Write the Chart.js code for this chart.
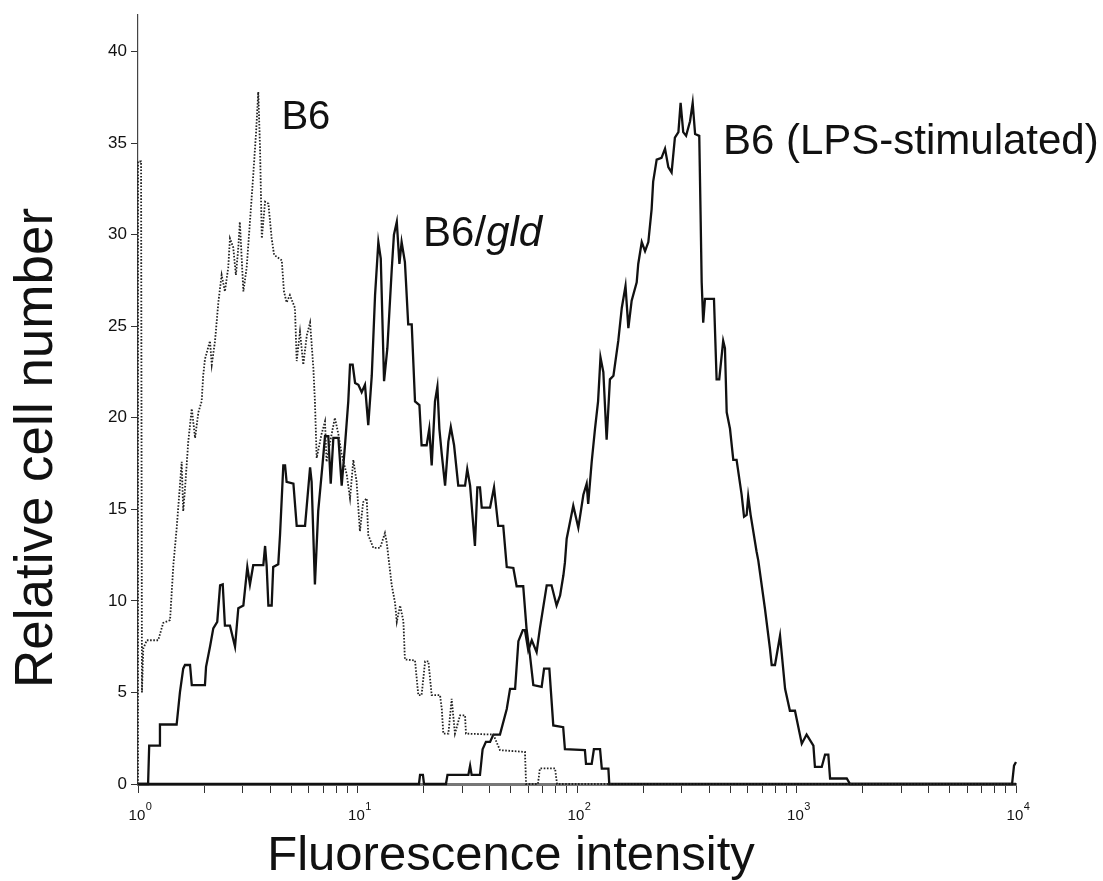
<!DOCTYPE html>
<html>
<head>
<meta charset="utf-8">
<script src="https://cdn.jsdelivr.net/npm/chart.js@4.4.1/dist/chart.umd.min.js"></script>
<style>
html,body{margin:0;padding:0;background:#fff;}
#wrap{width:1103px;height:881px;position:relative;}
</style>
</head>
<body>
<div id="wrap"><canvas id="c"></canvas></div>
<script>
// ---- axis ticks / labels ----
const yTickStep = 5;
const yMax = 42;
const xDecadeTicks = [1, 10, 100, 1000, 10000];
const xDecadeBase = '10';
const xDecadeExponents = ['0', '1', '2', '3', '4'];
const xTitle = 'Fluorescence intensity';
const yTitle = 'Relative cell number';

// ---- series (x = log10 of fluorescence intensity, y = relative cell number) ----
const b6LogX = [0.000,0.000,0.014,0.018,0.024,0.040,0.092,0.115,0.146,0.161,0.176,
  0.191,0.199,0.206,0.214,0.229,0.245,0.260,0.275,0.290,0.297,
  0.305,0.328,0.336,0.351,0.366,0.381,0.396,0.411,0.419,0.434,
  0.446,0.457,0.464,0.480,0.495,0.510,0.523,0.538,0.548,0.556,
  0.564,0.579,0.594,0.609,0.620,0.655,0.665,0.677,0.692,0.715,
  0.723,0.738,0.753,0.769,0.784,0.799,0.806,0.814,0.836,0.852,
  0.859,0.882,0.897,0.913,0.928,0.951,0.966,0.981,0.996,1.011,
  1.026,1.042,1.049,1.072,1.103,1.125,1.133,1.156,1.171,1.179,
  1.194,1.209,1.216,1.262,1.277,1.292,1.308,1.323,1.338,1.376,
  1.384,1.391,1.414,1.429,1.444,1.467,1.490,1.494,1.619,1.649,
  1.763,1.768,1.822,1.831,1.900,1.909,4.000];
const b6Count = [0,34.0,34.0,5.0,7.4,7.85,7.85,8.8,8.95,11.95,13.95,
  16.3,17.6,14.9,16.1,18.7,20.5,18.9,20.3,20.9,22.3,
  23.2,24.2,22.9,24.2,26.3,27.8,26.9,28.2,29.8,29.3,
  27.8,29.3,30.7,26.9,28.2,30.7,32.9,35.6,37.8,34.7,
  29.8,31.8,31.7,29.8,28.9,28.6,26.9,26.3,26.7,26.0,
  23.1,24.7,22.9,24.5,25.2,22.7,20.9,17.8,19.1,19.8,
  17.6,19.1,20.0,19.1,18.0,16.9,15.6,17.7,16.5,13.8,
  15.4,15.6,13.6,12.9,12.9,13.7,13.2,10.85,9.9,8.85,
  9.75,8.9,6.8,6.75,4.85,4.85,6.7,6.7,4.85,4.85,
  4.1,2.75,2.75,4.65,2.75,3.75,3.75,2.75,2.7,1.85,
  1.75,0,0,0.85,0.85,0,0];

const gldLogX = [0.000,0.046,0.051,0.097,0.100,0.176,0.191,0.206,0.214,0.237,
  0.245,0.305,0.310,0.328,0.343,0.361,0.374,0.386,0.396,0.419,
  0.442,0.457,0.480,0.498,0.510,0.525,0.571,0.579,0.586,0.594,
  0.609,0.616,0.639,0.647,0.662,0.670,0.677,0.708,0.723,0.761,
  0.784,0.791,0.806,0.821,0.841,0.852,0.867,0.878,0.890,0.913,
  0.928,0.943,0.958,0.966,0.978,0.989,1.004,1.019,1.034,1.049,
  1.065,1.080,1.095,1.106,1.121,1.136,1.156,1.166,1.179,1.191,
  1.201,1.216,1.221,1.231,1.247,1.262,1.282,1.292,1.315,1.327,
  1.338,1.353,1.364,1.373,1.384,1.399,1.414,1.425,1.440,1.459,
  1.490,1.500,1.513,1.535,1.546,1.558,1.566,1.604,1.622,1.641,
  1.664,1.680,1.710,1.725,1.755,1.770,1.786,1.801,1.839,1.850,
  1.874,1.892,1.937,1.945,2.036,2.041,2.067,2.077,2.105,2.113,
  2.143,2.147,4.000];
const gldCount = [0,0,2.1,2.1,3.25,3.25,5.0,6.3,6.5,6.5,
  5.4,5.4,6.4,7.5,8.5,8.85,10.85,10.9,8.65,8.65,
  7.5,9.6,9.75,11.85,10.9,11.95,11.95,13.0,11.95,9.75,
  9.75,11.85,12.0,13.6,17.4,17.4,16.5,16.4,14.1,14.1,
  17.3,16.5,10.9,14.9,17.5,19.0,19.0,16.4,18.9,18.9,
  16.3,18.5,20.9,22.9,22.9,21.9,21.8,21.4,21.8,19.6,
  22.3,26.7,29.6,28.7,22.0,23.8,28.1,30.0,30.7,28.4,
  29.6,28.5,27.4,25.1,25.1,20.9,20.7,18.5,18.5,19.4,
  17.4,20.9,21.7,19.4,18.0,16.3,18.7,19.5,18.5,16.3,
  16.3,17.2,16.3,13.0,16.2,16.2,15.1,15.1,16.2,14.1,
  14.1,11.85,11.8,10.8,10.8,8.5,7.0,5.4,5.3,6.3,
  6.3,3.2,3.1,1.9,1.85,1.1,1.1,1.9,1.9,0.84,
  0.84,0,0];

const lpsLogX = [0.000,1.280,1.285,1.298,1.303,1.403,1.410,1.505,1.513,1.520,
  1.558,1.570,1.585,1.604,1.619,1.649,1.680,1.695,1.718,1.733,
  1.753,1.763,1.778,1.794,1.816,1.831,1.862,1.884,1.907,1.923,
  1.938,1.945,1.953,1.983,2.006,2.029,2.044,2.051,2.067,2.082,
  2.096,2.107,2.120,2.135,2.150,2.166,2.188,2.204,2.221,2.234,
  2.249,2.272,2.279,2.295,2.310,2.325,2.340,2.347,2.363,2.385,
  2.401,2.416,2.431,2.446,2.462,2.472,2.484,2.497,2.515,2.527,
  2.538,2.557,2.563,2.568,2.575,2.583,2.624,2.636,2.648,2.666,
  2.674,2.682,2.697,2.712,2.727,2.750,2.761,2.773,2.780,2.791,
  2.818,2.826,2.856,2.879,2.887,2.902,2.925,2.948,2.970,2.993,
  3.024,3.046,3.077,3.084,3.115,3.130,3.145,3.153,3.229,3.244,
  3.982,3.991,4.000];
const lpsCount = [0,0,0.5,0.5,0,0,0.5,0.5,1.0,0.5,
  0.5,1.9,2.3,2.3,2.7,2.7,4.1,5.2,5.2,7.8,
  8.4,8.4,7.3,7.85,7.2,8.5,10.85,10.85,9.75,10.3,
  11.4,12.1,13.4,15.2,14.0,15.8,16.4,15.3,17.6,19.4,
  20.9,23.3,22.5,18.8,22.1,22.3,24.2,26.0,27.2,24.9,
  26.4,27.4,28.4,29.6,29.1,29.6,31.4,32.9,34.1,34.2,
  34.7,33.7,33.4,35.3,35.6,37.2,35.6,35.4,36.2,37.2,
  35.5,35.4,31.1,27.4,25.2,26.5,26.5,22.1,22.1,24.2,
  23.8,20.3,19.4,17.7,17.7,15.8,14.6,14.7,15.7,14.7,
  12.7,12.2,9.6,7.4,6.5,6.5,8.1,5.2,4.0,4.0,
  2.2,2.7,2.1,0.93,0.93,1.6,1.6,0.3,0.3,0,
  0,1.0,1.2];

// ---- curve labels (text, anchored in data coordinates) ----
const curveLabels = [
  {parts: [['B6', 'normal']], at: [4.5, 35.8], size: 40},
  {parts: [['B6/', 'normal'], ['gld', 'italic']], at: [19.9, 29.4], size: 42},
  {parts: [['B6 (LPS-stimulated)', 'normal']], at: [462, 34.4], size: 42}
];

const FONT = '"Liberation Sans", Arial, sans-serif';

function toPoints(logX, counts) {
  return logX.map((lx, i) => ({x: Math.pow(10, lx), y: counts[i]}));
}

const xTickValues = [];
for (let d = 0; d < 4; d++) {
  for (let k = 1; k <= 9; k++) xTickValues.push(k * Math.pow(10, d));
}
xTickValues.push(10000);

const textLayer = {
  id: 'textLayer',
  afterDraw(chart) {
    const {ctx, scales: {x, y}} = chart;
    ctx.save();
    ctx.fillStyle = '#111';
    ctx.textBaseline = 'alphabetic';
    ctx.textAlign = 'left';
    // decade tick labels: "10" with a raised exponent
    xDecadeTicks.forEach((v, i) => {
      const cx = x.getPixelForValue(v);
      ctx.font = '15px ' + FONT;
      const wBase = ctx.measureText(xDecadeBase).width;
      ctx.font = '11px ' + FONT;
      const wExp = ctx.measureText(xDecadeExponents[i]).width;
      const left = cx - (wBase + wExp) / 2 + 2;
      ctx.font = '15px ' + FONT;
      ctx.fillText(xDecadeBase, left, 820);
      ctx.font = '11px ' + FONT;
      ctx.fillText(xDecadeExponents[i], left + wBase + 0.5, 810);
    });
    for (const lab of curveLabels) {
      let px = x.getPixelForValue(lab.at[0]);
      const py = y.getPixelForValue(lab.at[1]);
      for (const [txt, style] of lab.parts) {
        ctx.font = style + ' ' + lab.size + 'px ' + FONT;
        ctx.fillText(txt, px, py);
        px += ctx.measureText(txt).width;
      }
    }
    // axis titles
    ctx.textAlign = 'center';
    ctx.font = '49px ' + FONT;
    ctx.fillText(xTitle, 511, 870);
    ctx.translate(52, 448);
    ctx.rotate(-Math.PI / 2);
    ctx.font = '53px ' + FONT;
    ctx.fillText(yTitle, 0, 0);
    ctx.restore();
  }
};

new Chart(document.getElementById('c'), {
  type: 'line',
  data: {
    datasets: [
      {label: 'B6', data: toPoints(b6LogX, b6Count), borderColor: '#222', borderWidth: 1.8,
       borderDash: [1.6, 1.6], pointRadius: 0, tension: 0, fill: false, clip: 6},
      {label: 'B6/gld', data: toPoints(gldLogX, gldCount), borderColor: '#111', borderWidth: 2.3,
       pointRadius: 0, tension: 0, fill: false, clip: 6},
      {label: 'B6 (LPS-stimulated)', data: toPoints(lpsLogX, lpsCount), borderColor: '#111', borderWidth: 2.3,
       pointRadius: 0, tension: 0, fill: false, clip: 6}
    ]
  },
  options: {
    responsive: true,
    maintainAspectRatio: false,
    animation: false,
    layout: {padding: {top: 15, right: 87, left: 0, bottom: 0}},
    plugins: {legend: {display: false}, tooltip: {enabled: false}, title: {display: false}},
    scales: {
      x: {
        type: 'logarithmic',
        position: 'bottom',
        min: 1,
        max: 10000,
        afterBuildTicks: (s) => { s.ticks = xTickValues.map(v => ({value: v, major: xDecadeTicks.includes(v)})); },
        afterFit: (s) => { s.height = 97; },
        border: {display: true, color: '#777', width: 3},
        grid: {display: true, drawOnChartArea: false, drawTicks: true, tickLength: 9, color: '#333', lineWidth: 1},
        ticks: {
          autoSkip: false, maxRotation: 0, minRotation: 0, padding: 7,
          color: '#111', font: {family: 'Liberation Sans', size: 15},
          callback: () => ''
        }
      },
      y: {
        type: 'linear',
        min: 0,
        max: yMax,
        afterFit: (s) => { s.width = 138; },
        border: {display: true, color: '#444', width: 1.2},
        grid: {display: true, drawOnChartArea: false, drawTicks: true, tickLength: 7, color: '#333', lineWidth: 1},
        ticks: {stepSize: yTickStep, includeBounds: false, padding: 4, color: '#111',
                font: {family: 'Liberation Sans', size: 17}}
      }
    }
  },
  plugins: [textLayer]
});
</script>
</body>
</html>
